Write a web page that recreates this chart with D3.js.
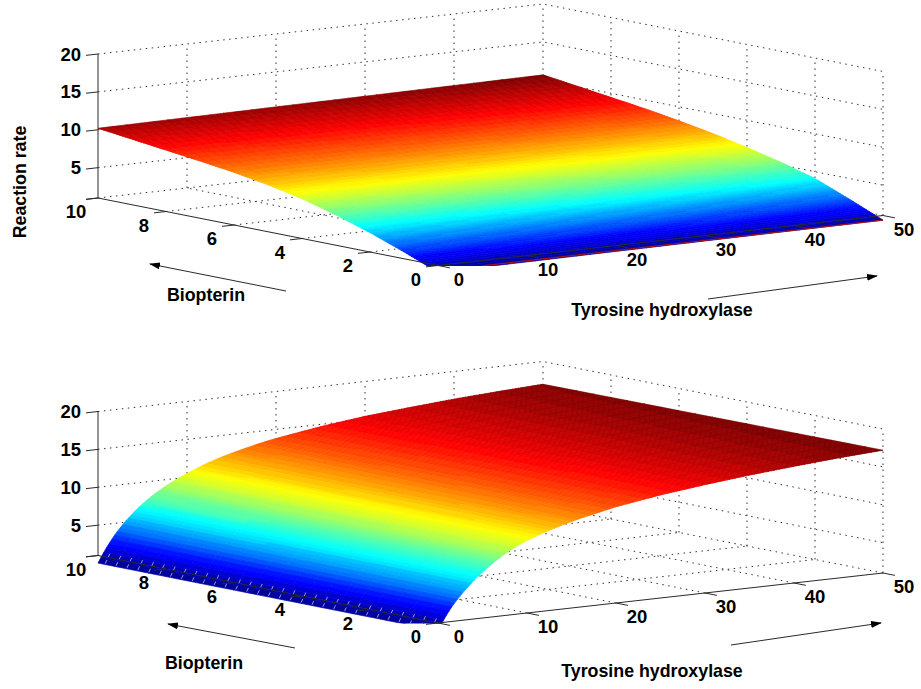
<!DOCTYPE html>
<html>
<head>
  <style>
  body {
    margin: 0;
    background: #fff;
  }
  text {
    font-family: "Liberation Sans", Arial, sans-serif;
    font-weight: bold;
    fill: #000;
  }
  .tick-label { font-size: 18.5px; }
  .axis-label { font-size: 17.8px; }
  .grid { fill: none; stroke: #333; stroke-width: 1; stroke-dasharray: 1.5 4.5; }
  .axis { fill: none; stroke: #2a2a2a; stroke-width: 1; }
  </style>
</head>
<body>
  <svg id="chart" width="921" height="689"></svg>
  <script src="https://d3js.org/d3.v7.min.js"></script>
  <script>
  // tick labels
  var bioTicks = [0, 2, 4, 6, 8, 10];
  var tyrTicks = [0, 10, 20, 30, 40, 50];
  var rateTicks = [5, 10, 15, 20];

  // top panel: rate against biopterin, read at tyrosine hydroxylase = 0 and = 50
  var bioValues = [0, 1, 2, 3, 4, 5, 6, 7, 8, 9, 10];
  var rateAtTyr0 = [0.1, 1.9, 3.55, 5.0, 6.25, 7.2, 7.95, 8.55, 9.1, 9.65, 10.2];
  var rateAtTyr50 = [0.4, 2.3, 4.1, 5.35, 6.4, 7.35, 8.15, 8.85, 9.45, 10.05, 10.65];

  // bottom panel: rate against tyrosine hydroxylase, read at biopterin = 0 and = 10
  var tyrValues = [0, 0.5, 1, 1.5, 2, 3, 4, 5, 6, 7, 8, 9, 10, 12, 14, 16, 18, 20, 25, 30, 35, 40, 45, 50];
  var rateAtBio0 = [0, 1.05, 2.0, 2.85, 3.6, 4.9, 6.05, 7.05, 7.95, 8.75, 9.45, 10.05, 10.55, 11.4, 12.1, 12.7, 13.2, 13.7, 14.6, 15.3, 15.9, 16.4, 16.85, 17.2];
  var rateAtBio10 = [0, 1.05, 2.0, 2.85, 3.65, 5.0, 6.15, 7.15, 8.0, 8.75, 9.4, 10.0, 10.5, 11.45, 12.2, 12.8, 13.35, 13.8, 14.7, 15.4, 15.9, 16.35, 16.7, 17.0];

  var svg = d3.select("#chart");

  // axonometric view, the scales give pixel offsets from the front floor corner
  var tyrX = d3.scaleLinear().domain([0, 50]).range([0, 445]);
  var tyrY = d3.scaleLinear().domain([0, 50]).range([0, -50]);
  var bioX = d3.scaleLinear().domain([0, 10]).range([0, -340]);
  var bioY = d3.scaleLinear().domain([0, 10]).range([0, -67.5]);
  var rateY = d3.scaleLinear().domain([1, 20]).range([0, -144]);

  var front = {x: 438, y: 265.5};

  function project(bio, tyr, rate){
    return [
      front.x + tyrX(tyr) + bioX(bio),
      front.y + tyrY(tyr) + bioY(bio) + rateY(rate)
    ];
  }

  // jet colormap, 64 levels like matlab
  var jetScale = d3.scaleLinear()
    .domain([0, 1/8, 3/8, 5/8, 7/8, 1])
    .range(["#00008f", "#0000ff", "#00ffff", "#ffff00", "#ff0000", "#800000"])
    .clamp(true);

  function jet(t){
    return jetScale(Math.min(Math.floor(t * 64), 63) / 63);
  }

  var line = d3.line();

  function drawPanel(id, shiftY, rateAt, rateMax, nBio, nTyr, labels){
    var g = svg.append("g")
        .attr("transform", "translate(0," + shiftY + ")");

    // floor and wall grid
    var grid = g.append("g").attr("class", "grid");
    var floorRate = 1;
    bioTicks.slice(1).forEach(function(b){
      grid.append("path").attr("d", line([project(b, 0, floorRate), project(b, 50, floorRate)]));
      if (b < 10) grid.append("path").attr("d", line([project(b, 50, floorRate), project(b, 50, 20)]));
    });
    grid.append("path").attr("d", line([project(0, 50, floorRate), project(0, 50, 20)]));
    tyrTicks.slice(1).forEach(function(t){
      grid.append("path").attr("d", line([project(0, t, floorRate), project(10, t, floorRate)]));
      grid.append("path").attr("d", line([project(10, t, floorRate), project(10, t, 20)]));
    });
    rateTicks.forEach(function(r){
      grid.append("path").attr("d", line([project(10, 0, r), project(10, 50, r), project(0, 50, r)]));
    });

    // surface, clipped at the bottom of the axes box
    g.append("clipPath").attr("id", id)
      .append("rect")
        .attr("x", 0).attr("y", 0)
        .attr("width", 921).attr("height", front.y + 0.5);

    var surf = g.append("g").attr("clip-path", "url(#" + id + ")");
    var bios = d3.range(nBio + 1).map(function(i){ return 10 - 10 * i / nBio; });
    var tyrs = d3.range(nTyr + 1).map(function(i){ return 50 - 50 * i / nTyr; });
    var facets = [];
    for (var i = 0; i < nBio; i++){
      for (var j = 0; j < nTyr; j++){
        var b0 = bios[i], b1 = bios[i + 1], t0 = tyrs[j], t1 = tyrs[j + 1];
        var z = [rateAt(b0, t0), rateAt(b0, t1), rateAt(b1, t1), rateAt(b1, t0)];
        facets.push({
          pts: [project(b0, t0, z[0]), project(b0, t1, z[1]), project(b1, t1, z[2]), project(b1, t0, z[3])],
          color: jet(d3.mean(z) / rateMax)
        });
      }
    }
    surf.selectAll("path")
        .data(facets)
      .enter().append("path")
        .attr("d", function(d){ return line(d.pts) + "Z"; })
        .attr("fill", function(d){ return d.color; })
        .attr("stroke", function(d){ return d.color; })
        .attr("stroke-width", 0.7);

    labels.extra(g, surf);

    // axis lines and outward ticks
    var axis = g.append("g").attr("class", "axis");
    axis.append("path").attr("d", line([project(10, 0, 20), project(10, 0, floorRate), project(0, 0, floorRate), project(0, 50, floorRate)]));
    rateTicks.concat([floorRate]).forEach(function(r){
      axis.append("path").attr("d", line([project(10, 0, r), project(10, -1.35, r)]));
    });
    bioTicks.forEach(function(b){
      axis.append("path").attr("d", line([project(b, 0, floorRate), project(b, -1.35, floorRate)]));
    });
    tyrTicks.forEach(function(t){
      axis.append("path").attr("d", line([project(0, t, floorRate), project(-0.35, t, floorRate)]));
    });

    // tick labels
    g.selectAll(".rate-label")
        .data(rateTicks)
      .enter().append("text")
        .attr("class", "tick-label rate-label")
        .attr("x", 81)
        .attr("y", function(d){ return project(10, 0, d)[1] + 6.5; })
        .attr("text-anchor", "end")
        .text(function(d){ return d; });

    g.selectAll(".bio-label")
        .data(bioTicks)
      .enter().append("text")
        .attr("class", "tick-label bio-label")
        .attr("x", function(d){ return project(d, 0, floorRate)[0] - 22; })
        .attr("y", function(d){ return project(d, 0, floorRate)[1] + 20; })
        .attr("text-anchor", "middle")
        .text(function(d){ return d; });

    g.selectAll(".tyr-label")
        .data(tyrTicks)
      .enter().append("text")
        .attr("class", "tick-label tyr-label")
        .attr("x", function(d){ return project(0, d, floorRate)[0] + 21; })
        .attr("y", function(d){ return project(0, d, floorRate)[1] + 20; })
        .attr("text-anchor", "middle")
        .text(function(d){ return d; });

    // axis names with hand drawn arrows
    g.append("text").attr("class", "axis-label")
      .attr("x", labels.bio[0]).attr("y", labels.bio[1])
      .attr("text-anchor", "middle").text("Biopterin");
    g.append("text").attr("class", "axis-label")
      .attr("x", labels.tyr[0]).attr("y", labels.tyr[1])
      .attr("text-anchor", "middle").text("Tyrosine hydroxylase");

    labels.arrows.forEach(function(a){
      g.append("path")
        .attr("d", line(a))
        .attr("fill", "none")
        .attr("stroke", "#2a2a2a")
        .attr("stroke-width", 1)
        .attr("marker-end", "url(#arrow)");
    });
  }

  svg.append("defs").append("marker")
      .attr("id", "arrow")
      .attr("markerUnits", "userSpaceOnUse")
      .attr("markerWidth", 12)
      .attr("markerHeight", 8)
      .attr("refX", 10)
      .attr("refY", 3.5)
      .attr("orient", "auto")
    .append("path")
      .attr("d", "M0,0L11,3.5L0,7Z")
      .attr("fill", "#000");

  var bioScale0 = d3.scaleLinear().domain(bioValues).range(rateAtTyr0);
  var bioScale50 = d3.scaleLinear().domain(bioValues).range(rateAtTyr50);
  var tyrScale0 = d3.scaleLinear().domain(tyrValues).range(rateAtBio0);
  var tyrScale10 = d3.scaleLinear().domain(tyrValues).range(rateAtBio10);

  drawPanel("clip-top", 0, function(b, t){
    return bioScale0(b) + (bioScale50(b) - bioScale0(b)) * t / 50;
  }, 10.65, 128, 32, {
    bio: [206, 301],
    tyr: [662, 316],
    arrows: [[[286, 291], [150, 264]], [[708, 299], [877, 276]]],
    extra: function(g, surf){
      // thin dark red rim along the lower edge of the surface
      surf.append("path")
        .attr("d", line([project(0, 5, 0.3), project(0, 50, 0.4)]))
        .attr("fill", "none")
        .attr("stroke", "#a01414")
        .attr("stroke-width", 1.2);
    }
  });

  drawPanel("clip-bottom", 357.5, function(b, t){
    return tyrScale0(t) + (tyrScale10(t) - tyrScale0(t)) * b / 10;
  }, 17.2, 20, 160, {
    bio: [204, 311],
    tyr: [652, 319],
    arrows: [[[295, 290.5], [168, 266.5]], [[731, 287.5], [881, 265.5]]],
    extra: function(g, surf){
      // mesh gaps showing through the dark blue lip
      surf.selectAll(".lip")
          .data(d3.range(0.2, 10, 0.32))
        .enter().append("path")
          .attr("class", "lip")
          .attr("d", function(b){ return line([project(b, 0.05, 0.1), project(b, 0.6, 1.4)]); })
          .attr("fill", "none")
          .attr("stroke", "#fff")
          .attr("stroke-opacity", 0.75)
          .attr("stroke-width", 0.8)
          .attr("stroke-dasharray", "4 3");
    }
  });

  svg.append("text")
      .attr("class", "axis-label")
      .attr("transform", "translate(26,182) rotate(-90)")
      .attr("text-anchor", "middle")
      .text("Reaction rate");
  </script>
</body>
</html>
